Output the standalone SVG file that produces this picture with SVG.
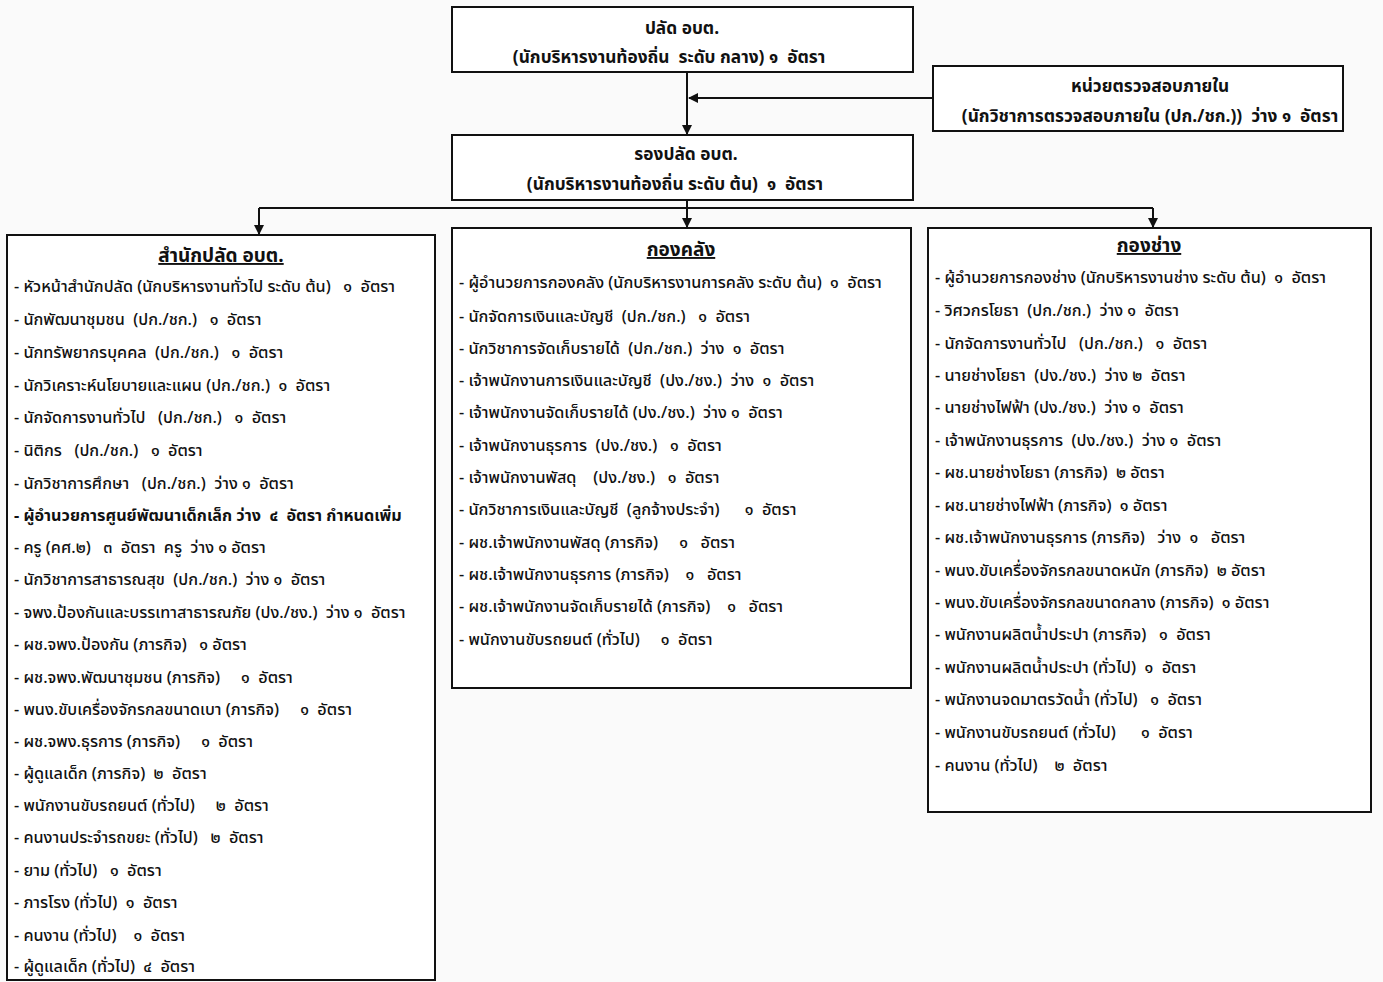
<svg xmlns="http://www.w3.org/2000/svg" width="1383" height="982" viewBox="0 0 1383 982">
<defs>
<marker id="arr" markerWidth="10" markerHeight="10" refX="9" refY="5" orient="auto" markerUnits="userSpaceOnUse">
<path d="M0,0 L10,5 L0,10 z" fill="#111"/>
</marker>
<style>
.box{fill:#fff;stroke:#111;stroke-width:2}
.t{font-family:"Noto Sans Thai","Noto Sans","DejaVu Sans",sans-serif;font-size:16.2px;fill:#111;white-space:pre;font-weight:500}
.b{font-weight:bold}
.bx{font-weight:bold;font-size:17.3px}
.h{font-weight:bold;font-size:19px;text-decoration:underline}
.c{text-anchor:middle}
.con{stroke:#111;stroke-width:2;fill:none}
</style>
</defs>
<rect x="0" y="0" width="1383" height="982" fill="#fafafa"/>
<g id="connectors">
<line class="con" x1="687" y1="72" x2="687" y2="134" marker-end="url(#arr)"/>
<line class="con" x1="933" y1="98" x2="689" y2="98" marker-end="url(#arr)"/>
<line class="con" x1="687" y1="200" x2="687" y2="227" marker-end="url(#arr)"/>
<line class="con" x1="259" y1="208" x2="1153" y2="208"/>
<line class="con" x1="259" y1="208" x2="259" y2="234" marker-end="url(#arr)"/>
<line class="con" x1="1153" y1="208" x2="1153" y2="227" marker-end="url(#arr)"/>
</g>
<g id="n-top">
<rect class="box" x="452" y="7" width="461" height="65"/>
<text class="t bx c" x="682" y="34">ปลัด อบต.</text>
<text class="t bx c" x="669" y="63">(นักบริหารงานท้องถิ่น  ระดับ กลาง) ๑  อัตรา</text>
</g>
<g id="n-audit">
<rect class="box" x="933" y="66" width="410" height="65"/>
<text class="t bx c" x="1150" y="92">หน่วยตรวจสอบภายใน</text>
<text class="t bx c" x="1150" y="122">(นักวิชาการตรวจสอบภายใน (ปก./ชก.))  ว่าง ๑  อัตรา</text>
</g>
<g id="n-deputy">
<rect class="box" x="452" y="135" width="461" height="65"/>
<text class="t bx c" x="686" y="160">รองปลัด อบต.</text>
<text class="t bx c" x="675" y="190">(นักบริหารงานท้องถิ่น ระดับ ต้น)  ๑  อัตรา</text>
</g>
<g id="n-office">
<rect class="box" x="7" y="235" width="428" height="745"/>
<text class="t h c" x="221" y="262">สำนักปลัด อบต.</text>
<text class="t" x="14" y="292">- หัวหน้าสำนักปลัด (นักบริหารงานทั่วไป ระดับ ต้น)   ๑  อัตรา</text>
<text class="t" x="14" y="325">- นักพัฒนาชุมชน  (ปก./ชก.)   ๑  อัตรา</text>
<text class="t" x="14" y="358">- นักทรัพยากรบุคคล  (ปก./ชก.)   ๑  อัตรา</text>
<text class="t" x="14" y="391">- นักวิเคราะห์นโยบายและแผน (ปก./ชก.)  ๑  อัตรา</text>
<text class="t" x="14" y="423">- นักจัดการงานทั่วไป   (ปก./ชก.)   ๑  อัตรา</text>
<text class="t" x="14" y="456">- นิติกร   (ปก./ชก.)   ๑  อัตรา</text>
<text class="t" x="14" y="489">- นักวิชาการศึกษา   (ปก./ชก.)  ว่าง ๑  อัตรา</text>
<text class="t b" x="14" y="521">- ผู้อำนวยการศูนย์พัฒนาเด็กเล็ก ว่าง  ๔  อัตรา กำหนดเพิ่ม</text>
<text class="t" x="14" y="553">- ครู (คศ.๒)   ๓  อัตรา  ครู  ว่าง ๑ อัตรา</text>
<text class="t" x="14" y="585">- นักวิชาการสาธารณสุข  (ปก./ชก.)  ว่าง ๑  อัตรา</text>
<text class="t" x="14" y="618">- จพง.ป้องกันและบรรเทาสาธารณภัย (ปง./ชง.)  ว่าง ๑  อัตรา</text>
<text class="t" x="14" y="650">- ผช.จพง.ป้องกัน (ภารกิจ)   ๑ อัตรา</text>
<text class="t" x="14" y="683">- ผช.จพง.พัฒนาชุมชน (ภารกิจ)     ๑  อัตรา</text>
<text class="t" x="14" y="715">- พนง.ขับเครื่องจักรกลขนาดเบา (ภารกิจ)     ๑  อัตรา</text>
<text class="t" x="14" y="747">- ผช.จพง.ธุรการ (ภารกิจ)     ๑  อัตรา</text>
<text class="t" x="14" y="779">- ผู้ดูแลเด็ก (ภารกิจ)  ๒  อัตรา</text>
<text class="t" x="14" y="811">- พนักงานขับรถยนต์ (ทั่วไป)     ๒  อัตรา</text>
<text class="t" x="14" y="843">- คนงานประจำรถขยะ (ทั่วไป)   ๒  อัตรา</text>
<text class="t" x="14" y="876">- ยาม (ทั่วไป)   ๑  อัตรา</text>
<text class="t" x="14" y="908">- ภารโรง (ทั่วไป)  ๑  อัตรา</text>
<text class="t" x="14" y="941">- คนงาน (ทั่วไป)    ๑  อัตรา</text>
<text class="t" x="14" y="972">- ผู้ดูแลเด็ก (ทั่วไป)  ๔  อัตรา</text>
</g>
<g id="n-finance">
<rect class="box" x="452" y="228" width="459" height="460"/>
<text class="t h c" x="681" y="256">กองคลัง</text>
<text class="t" x="459" y="288">- ผู้อำนวยการกองคลัง (นักบริหารงานการคลัง ระดับ ต้น)  ๑  อัตรา</text>
<text class="t" x="459" y="322">- นักจัดการเงินและบัญชี  (ปก./ชก.)   ๑  อัตรา</text>
<text class="t" x="459" y="354">- นักวิชาการจัดเก็บรายได้  (ปก./ชก.)  ว่าง  ๑  อัตรา</text>
<text class="t" x="459" y="386">- เจ้าพนักงานการเงินและบัญชี  (ปง./ชง.)  ว่าง  ๑  อัตรา</text>
<text class="t" x="459" y="418">- เจ้าพนักงานจัดเก็บรายได้ (ปง./ชง.)  ว่าง ๑  อัตรา</text>
<text class="t" x="459" y="451">- เจ้าพนักงานธุรการ  (ปง./ชง.)   ๑  อัตรา</text>
<text class="t" x="459" y="483">- เจ้าพนักงานพัสดุ    (ปง./ชง.)   ๑  อัตรา</text>
<text class="t" x="459" y="515">- นักวิชาการเงินและบัญชี  (ลูกจ้างประจำ)      ๑  อัตรา</text>
<text class="t" x="459" y="548">- ผช.เจ้าพนักงานพัสดุ (ภารกิจ)     ๑   อัตรา</text>
<text class="t" x="459" y="580">- ผช.เจ้าพนักงานธุรการ (ภารกิจ)    ๑   อัตรา</text>
<text class="t" x="459" y="612">- ผช.เจ้าพนักงานจัดเก็บรายได้ (ภารกิจ)    ๑   อัตรา</text>
<text class="t" x="459" y="645">- พนักงานขับรถยนต์ (ทั่วไป)     ๑  อัตรา</text>
</g>
<g id="n-works">
<rect class="box" x="928" y="228" width="443" height="584"/>
<text class="t h c" x="1149" y="252">กองช่าง</text>
<text class="t" x="935" y="283">- ผู้อำนวยการกองช่าง (นักบริหารงานช่าง ระดับ ต้น)  ๑  อัตรา</text>
<text class="t" x="935" y="316">- วิศวกรโยธา  (ปก./ชก.)  ว่าง ๑  อัตรา</text>
<text class="t" x="935" y="349">- นักจัดการงานทั่วไป   (ปก./ชก.)   ๑  อัตรา</text>
<text class="t" x="935" y="381">- นายช่างโยธา  (ปง./ชง.)  ว่าง ๒  อัตรา</text>
<text class="t" x="935" y="413">- นายช่างไฟฟ้า (ปง./ชง.)  ว่าง ๑  อัตรา</text>
<text class="t" x="935" y="446">- เจ้าพนักงานธุรการ  (ปง./ชง.)  ว่าง ๑  อัตรา</text>
<text class="t" x="935" y="478">- ผช.นายช่างโยธา (ภารกิจ)  ๒ อัตรา</text>
<text class="t" x="935" y="511">- ผช.นายช่างไฟฟ้า (ภารกิจ)  ๑ อัตรา</text>
<text class="t" x="935" y="543">- ผช.เจ้าพนักงานธุรการ (ภารกิจ)   ว่าง  ๑   อัตรา</text>
<text class="t" x="935" y="576">- พนง.ขับเครื่องจักรกลขนาดหนัก (ภารกิจ)  ๒ อัตรา</text>
<text class="t" x="935" y="608">- พนง.ขับเครื่องจักรกลขนาดกลาง (ภารกิจ)  ๑ อัตรา</text>
<text class="t" x="935" y="640">- พนักงานผลิตน้ำประปา (ภารกิจ)   ๑  อัตรา</text>
<text class="t" x="935" y="673">- พนักงานผลิตน้ำประปา (ทั่วไป)  ๑  อัตรา</text>
<text class="t" x="935" y="705">- พนักงานจดมาตรวัดน้ำ (ทั่วไป)   ๑  อัตรา</text>
<text class="t" x="935" y="738">- พนักงานขับรถยนต์ (ทั่วไป)      ๑  อัตรา</text>
<text class="t" x="935" y="771">- คนงาน (ทั่วไป)    ๒  อัตรา</text>
</g>
</svg>
